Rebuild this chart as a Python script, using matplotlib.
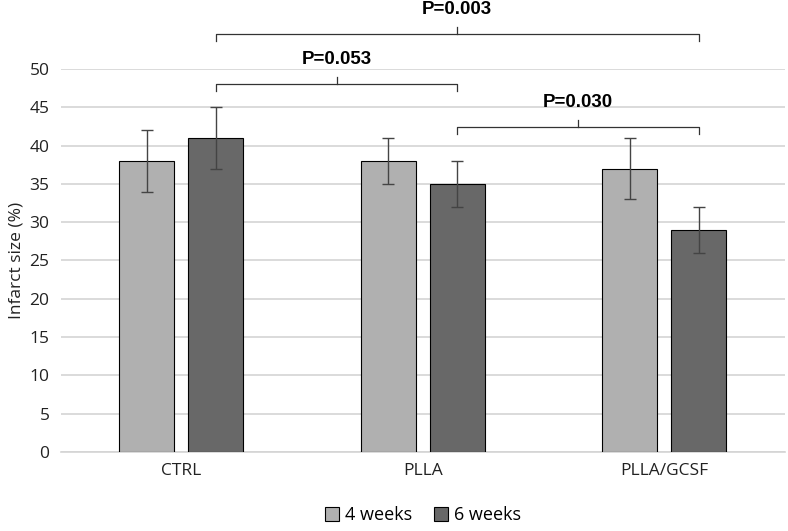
import matplotlib.pyplot as plt
import numpy as np

categories = ["CTRL", "PLLA", "PLLA/GCSF"]
weeks4 = [38, 38, 37]
weeks4_err = [4, 3, 4]
weeks6 = [41, 35, 29]
weeks6_err = [4, 3, 3]

# (left group, right group, bracket height, label)
comparisons = [
    (0, 1, 48.0, "P=0.053"),
    (1, 2, 42.4, "P=0.030"),
    (0, 2, 54.6, "P=0.003"),
]

plt.rcParams['font.family'] = ['Open Sans', 'DejaVu Sans']

fig = plt.figure(figsize=(7.88, 5.31), dpi=100)
ax = fig.add_axes([0.077, 0.149, 0.919, 0.721])

x = np.arange(len(categories))
w = 0.228
off = 0.143
err_kw = dict(ecolor='#444444', elinewidth=1, capsize=4, capthick=1)
ax.bar(x - off, weeks4, w, yerr=weeks4_err, color='#b0b0b0',
       edgecolor='black', linewidth=0.8, label='4 weeks', error_kw=err_kw, zorder=3)
ax.bar(x + off, weeks6, w, yerr=weeks6_err, color='#686868',
       edgecolor='black', linewidth=0.8, label='6 weeks', error_kw=err_kw, zorder=3)

ax.set_xlim(-0.5, 2.5)
ax.set_ylim(0, 50)
ax.set_yticks(np.arange(0, 51, 5))
ax.set_xticks(x)
ax.set_xticklabels(categories)
ax.tick_params(axis='both', length=0, labelsize=12.5, colors='#222222', pad=8)
ax.yaxis.grid(True, color='#d4d4d4', linewidth=1.2, zorder=0)
for s in ['top', 'right', 'left']:
    ax.spines[s].set_visible(False)
ax.spines['bottom'].set_color('#d4d4d4')
ax.spines['bottom'].set_linewidth(1.2)
ax.set_ylabel("Infarct size (%)", fontsize=12.5, color='#222222', labelpad=4)

# significance brackets
for a, b, h, lab in comparisons:
    x1, x2 = a + off, b + off
    xm = (x1 + x2) / 2
    ax.plot([x1, x1, x2, x2], [h - 0.9, h, h, h - 0.9], color='#333333',
            linewidth=0.9, clip_on=False)
    ax.plot([xm, xm], [h, h + 0.9], color='#333333', linewidth=0.9, clip_on=False)
    ax.text(xm, h + 3.2, lab, ha='center', va='center', fontsize=13.5,
            fontweight='bold', family='Liberation Sans', clip_on=False)

ax.legend(loc='upper center', bbox_to_anchor=(0.5, -0.1), ncol=2, frameon=False,
          fontsize=13, handlelength=0.8, handleheight=0.8, columnspacing=1.2,
          handletextpad=0.3)

fig.savefig("out.png", dpi=100)
